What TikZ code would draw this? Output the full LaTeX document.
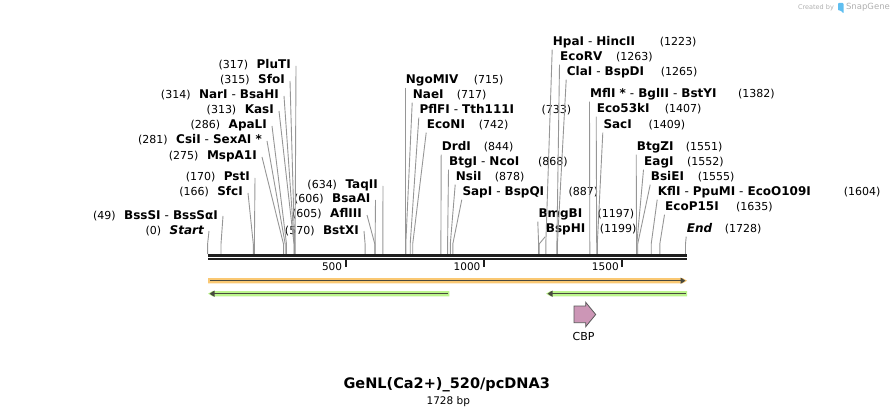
\documentclass[tikz,border=0pt]{standalone}
\usepackage{fontspec}
\setmainfont{DejaVu Sans}
\usetikzlibrary{arrows.meta}

\definecolor{sitegray}{RGB}{150,150,150}
\definecolor{featorange}{RGB}{250,200,115}
\definecolor{featgreen}{RGB}{188,245,140}
\definecolor{featdark}{RGB}{72,72,62}
\definecolor{cbppink}{RGB}{204,150,182}
\definecolor{sgblue}{RGB}{95,190,240}
\definecolor{sggray}{RGB}{175,175,175}

\newcommand{\enz}[1]{{\fontsize{12}{14}\selectfont\bfseries #1}}
\newcommand{\dsh}{\hspace{4pt}{\mdseries -}\hspace{4pt}}
\newcommand{\lsite}[2]{(#1)\hspace{8.5pt}\enz{#2}}
\newcommand{\rsite}[3]{\makebox[#1pt][l]{\enz{#2}}(#3)}

\begin{document}
\begin{tikzpicture}[x=1pt,y=-1pt,
  every node/.style={font=\fontsize{11}{13}\selectfont},
  llab/.style={anchor=east, inner xsep=5pt, inner ysep=0pt, text height=8.5pt, text depth=2.5pt},
  rlab/.style={anchor=west, inner xsep=0.5pt, inner ysep=1pt, text height=8.5pt, text depth=2.5pt},
  site/.style={draw=sitegray, line width=0.9pt}]
\useasboundingbox (0,0) rectangle (895,417);

% cut sites on the axis
\coordinate (start-s) at (207.6,254);
\coordinate (bsssi-s) at (221.0,254);
\coordinate (sfci-s) at (253.3,254);
\coordinate (psti-s) at (254.4,254);
\coordinate (mspa1i-s) at (283.5,254);
\coordinate (csii-s) at (285.2,254);
\coordinate (apali-s) at (286.5,254);
\coordinate (kasi-s) at (294.0,254);
\coordinate (nari-s) at (294.3,254);
\coordinate (sfoi-s) at (294.6,254);
\coordinate (pluti-s) at (295.1,254);
\coordinate (bstxi-s) at (365.1,254);
\coordinate (afliii-s) at (374.8,254);
\coordinate (bsaai-s) at (375.1,254);
\coordinate (taqii-s) at (382.8,254);
\coordinate (ngomiv-s) at (405.2,254);
\coordinate (naei-s) at (405.8,254);
\coordinate (pflfi-s) at (410.2,254);
\coordinate (econi-s) at (412.7,254);
\coordinate (drdi-s) at (440.9,254);
\coordinate (btgi-s) at (447.6,254);
\coordinate (nsii-s) at (450.3,254);
\coordinate (sapi-s) at (452.8,254);
\coordinate (bmgbi-s) at (538.6,254);
\coordinate (bsphi-s) at (539.2,254);
\coordinate (hpai-s) at (545.8,254);
\coordinate (ecorv-s) at (556.9,254);
\coordinate (clai-s) at (557.4,254);
\coordinate (mfli-s) at (589.8,254);
\coordinate (eco53ki-s) at (596.7,254);
\coordinate (saci-s) at (597.3,254);
\coordinate (btgzi-s) at (636.6,254);
\coordinate (eagi-s) at (636.8,254);
\coordinate (bsiei-s) at (637.7,254);
\coordinate (kfli-s) at (651.2,254);
\coordinate (ecop15i-s) at (659.8,254);
\coordinate (end-s) at (685.5,254);

% left labels
\node[llab] (pluti) at (296,66) {\lsite{317}{PluTI}};
\node[llab] (sfoi) at (290,81) {\lsite{315}{SfoI}};
\node[llab] (nari) at (284,96) {\lsite{314}{NarI\dsh BsaHI}};
\node[llab] (kasi) at (279,111) {\lsite{313}{KasI}};
\node[llab] (apali) at (272,126) {\lsite{286}{ApaLI}};
\node[llab] (csii) at (267,141) {\lsite{281}{CsiI\dsh SexAI *}};
\node[llab] (mspa1i) at (262,157) {\lsite{275}{MspA1I}};
\node[llab] (psti) at (255,178) {\lsite{170}{PstI}};
\node[llab] (sfci) at (248,193) {\lsite{166}{SfcI}};
\node[llab] (bsssi) at (223,216) {\lsite{49}{BssSI\dsh BssSαI}};
\node[llab] (start) at (209,231) {\lsite{0}{\itshape Start}};
\node[llab] (taqii) at (383,186) {\lsite{634}{TaqII}};
\node[llab] (bsaai) at (375.5,200) {\lsite{606}{BsaAI}};
\node[llab] (afliii) at (367,215) {\lsite{605}{AflIII}};
\node[llab] (bstxi) at (364,231) {\lsite{570}{BstXI}};

% right labels
\node[rlab] (ngomiv) at (405.2,81) {\rsite{68}{NgoMIV}{715}};
\node[rlab] (naei) at (412.2,96) {\rsite{44}{NaeI}{717}};
\node[rlab] (pflfi) at (418.8,111) {\rsite{122}{PflFI\dsh Tth111I}{733}};
\node[rlab] (econi) at (426.2,126) {\rsite{52}{EcoNI}{742}};
\node[rlab] (drdi) at (441.2,148) {\rsite{42}{DrdI}{844}};
\node[rlab] (btgi) at (448.5,163) {\rsite{89}{BtgI\dsh NcoI}{868}};
\node[rlab] (nsii) at (455.2,178) {\rsite{39}{NsiI}{878}};
\node[rlab] (sapi) at (461.8,193) {\rsite{106}{SapI\dsh BspQI}{887}};
\node[rlab] (hpai) at (552.2,43) {\rsite{107}{HpaI\dsh HincII}{1223}};
\node[rlab] (ecorv) at (559.5,58) {\rsite{56}{EcoRV}{1263}};
\node[rlab] (clai) at (566.2,73) {\rsite{94}{ClaI\dsh BspDI}{1265}};
\node[rlab] (mfli) at (589.5,95) {\rsite{148}{MflI *\dsh BglII\dsh BstYI}{1382}};
\node[rlab] (eco53ki) at (596.2,110) {\rsite{68}{Eco53kI}{1407}};
\node[rlab] (saci) at (602.8,126) {\rsite{45}{SacI}{1409}};
\node[rlab] (btgzi) at (636.2,148) {\rsite{49}{BtgZI}{1551}};
\node[rlab] (eagi) at (643.5,163) {\rsite{43}{EagI}{1552}};
\node[rlab] (bsiei) at (650.2,178) {\rsite{47}{BsiEI}{1555}};
\node[rlab] (kfli) at (657.2,193) {\rsite{186}{KflI\dsh PpuMI\dsh EcoO109I}{1604}};
\node[rlab] (ecop15i) at (664.5,208) {\rsite{71}{EcoP15I}{1635}};
\node[rlab] (bmgbi) at (537.8,215) {\rsite{59}{BmgBI}{1197}};
\node[rlab] (bsphi) at (545.2,230) {\rsite{54}{BspHI}{1199}};
\node[rlab] (end) at (686.2,230) {\rsite{38}{\itshape End}{1728}};

% site lines
\draw[site] (pluti.east) -- ([yshift=10pt]pluti-s) -- (pluti-s);
\draw[site] (sfoi.east) -- ([yshift=10pt]sfoi-s) -- (sfoi-s);
\draw[site] (nari.east) -- ([yshift=10pt]nari-s) -- (nari-s);
\draw[site] (kasi.east) -- ([yshift=10pt]kasi-s) -- (kasi-s);
\draw[site] (apali.east) -- ([yshift=10pt]apali-s) -- (apali-s);
\draw[site] (csii.east) -- ([yshift=10pt]csii-s) -- (csii-s);
\draw[site] (mspa1i.east) -- ([yshift=10pt]mspa1i-s) -- (mspa1i-s);
\draw[site] (psti.east) -- ([yshift=10pt]psti-s) -- (psti-s);
\draw[site] (sfci.east) -- ([yshift=10pt]sfci-s) -- (sfci-s);
\draw[site] (bsssi.east) -- ([yshift=10pt]bsssi-s) -- (bsssi-s);
\draw[site] (start.east) -- ([yshift=10pt]start-s) -- (start-s);
\draw[site] (taqii.east) -- ([yshift=10pt]taqii-s) -- (taqii-s);
\draw[site] (bsaai.east) -- ([yshift=10pt]bsaai-s) -- (bsaai-s);
\draw[site] (afliii.east) -- ([yshift=10pt]afliii-s) -- (afliii-s);
\draw[site] (bstxi.east) -- ([yshift=10pt]bstxi-s) -- (bstxi-s);
\draw[site] (ngomiv.south west) -- ([yshift=10pt]ngomiv-s) -- (ngomiv-s);
\draw[site] (naei.south west) -- ([yshift=10pt]naei-s) -- (naei-s);
\draw[site] (pflfi.south west) -- ([yshift=10pt]pflfi-s) -- (pflfi-s);
\draw[site] (econi.south west) -- ([yshift=10pt]econi-s) -- (econi-s);
\draw[site] (drdi.south west) -- ([yshift=10pt]drdi-s) -- (drdi-s);
\draw[site] (btgi.south west) -- ([yshift=10pt]btgi-s) -- (btgi-s);
\draw[site] (nsii.south west) -- ([yshift=10pt]nsii-s) -- (nsii-s);
\draw[site] (sapi.south west) -- ([yshift=10pt]sapi-s) -- (sapi-s);
\draw[site] (hpai.south west) -- ([yshift=10pt]hpai-s) -- (hpai-s);
\draw[site] (ecorv.south west) -- ([yshift=10pt]ecorv-s) -- (ecorv-s);
\draw[site] (clai.south west) -- ([yshift=10pt]clai-s) -- (clai-s);
\draw[site] (mfli.south west) -- ([yshift=10pt]mfli-s) -- (mfli-s);
\draw[site] (eco53ki.south west) -- ([yshift=10pt]eco53ki-s) -- (eco53ki-s);
\draw[site] (saci.south west) -- ([yshift=10pt]saci-s) -- (saci-s);
\draw[site] (btgzi.south west) -- ([yshift=10pt]btgzi-s) -- (btgzi-s);
\draw[site] (eagi.south west) -- ([yshift=10pt]eagi-s) -- (eagi-s);
\draw[site] (bsiei.south west) -- ([yshift=10pt]bsiei-s) -- (bsiei-s);
\draw[site] (kfli.south west) -- ([yshift=10pt]kfli-s) -- (kfli-s);
\draw[site] (ecop15i.south west) -- ([yshift=10pt]ecop15i-s) -- (ecop15i-s);
\draw[site] (bmgbi.south west) -- ([yshift=10pt]bmgbi-s) -- (bmgbi-s);
\draw[site] (bsphi.south west) -- ([yshift=10pt]bsphi-s) -- (bsphi-s);
\draw[site] (end.south west) -- ([yshift=10pt]end-s) -- (end-s);

% sequence axis
\draw[black!88, line width=2.7pt] (208,255.4) -- (686.7,255.4);
\draw[black!88, line width=2.7pt] (208,259.1) -- (686.7,259.1);
\draw[black!88, line width=2pt] (345.7,260) -- (345.7,267.3);
\draw[black!88, line width=2pt] (484,260) -- (484,267.3);
\draw[black!88, line width=2pt] (622.3,260) -- (622.3,267.3);
\node[anchor=east, inner sep=0pt, font=\fontsize{10.5}{12}\selectfont] (t500) at (342.3,266.5) {500};
\node[anchor=east, inner sep=0pt, font=\fontsize{10.5}{12}\selectfont] (t1000) at (480.6,266.5) {1000};
\node[anchor=east, inner sep=0pt, font=\fontsize{10.5}{12}\selectfont] (t1500) at (618.9,266.5) {1500};

% features
\fill[featorange] (208,278) -- (682.5,278) -- (687,280.7) -- (682.5,283.4) -- (208,283.4) -- cycle;
\draw[featdark, line width=1.5pt, -{Triangle[length=5pt,width=6pt]}] (210,280.7) -- (685.5,280.7);
\fill[featgreen] (208,293.7) -- (212.5,291) -- (449.3,291) -- (449.3,296.4) -- (212.5,296.4) -- cycle;
\draw[featdark, line width=1.5pt, -{Triangle[length=5pt,width=6pt]}] (448,293.7) -- (209.5,293.7);
\fill[featgreen] (546,293.7) -- (550.5,291) -- (687,291) -- (687,296.4) -- (550.5,296.4) -- cycle;
\draw[featdark, line width=1.5pt, -{Triangle[length=5pt,width=6pt]}] (685.5,293.7) -- (547.5,293.7);
\filldraw[fill=cbppink, draw=black!65, line width=0.8pt] (574,306) -- (585.7,306) -- (585.7,302.3) -- (595.7,314.5) -- (585.7,326.7) -- (585.7,322.7) -- (574,322.7) -- cycle;
\node (cbp) at (583.5,336) {CBP};

% title
\node[font=\fontsize{14.5}{17}\selectfont\bfseries] (title) at (446.7,385) {GeNL(Ca2+)\_520/pcDNA3};
\node[font=\fontsize{10.5}{12}\selectfont] (bp) at (448.3,401.5) {1728 bp};

% watermark
\node[font=\fontsize{6.5}{8}\selectfont, text=sggray, inner sep=0pt] (created) at (816,7.5) {Created by};
\fill[sgblue, rounded corners=0.8pt] (838,3) -- (843.5,3) -- (843.5,13.5) -- (840.5,10.5) -- (838,10.5) -- cycle;
\node[font=\fontsize{8.5}{10}\selectfont, text=sggray, inner sep=0pt] (snapgene) at (868,7.5) {SnapGene};
\end{tikzpicture}
\end{document}
